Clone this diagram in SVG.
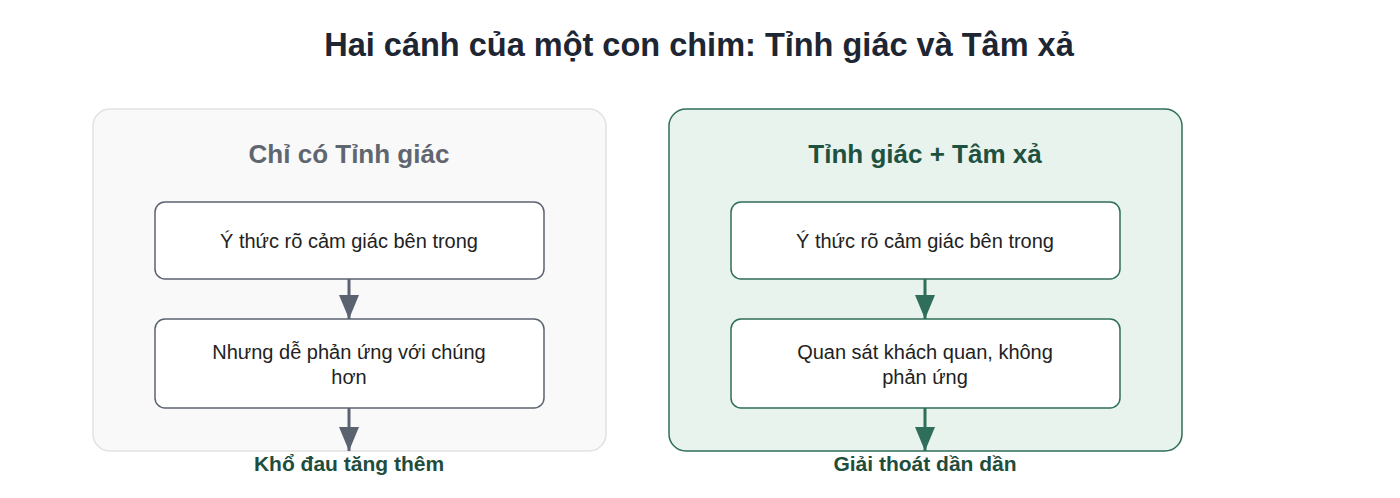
<svg xmlns="http://www.w3.org/2000/svg" width="1400" height="498" viewBox="0 0 1400 498">
<style>
text{font-family:"Liberation Sans",Arial,sans-serif;text-anchor:middle}
.title{font-size:32.5px;font-weight:bold;fill:#1e2633}
.ct{font-size:26px;font-weight:bold}
.nt{font-size:20px;fill:#222}
.out{font-size:21px;font-weight:bold;fill:#1f4d3d}
.node{fill:#fff;stroke-width:1.5}
</style>
<defs>
<marker id="ag" viewBox="0 0 24 20" markerWidth="24" markerHeight="20" refX="24" refY="10" orient="auto" markerUnits="userSpaceOnUse"><path d="M0,0L24,10L0,20Z" fill="#5c6370"/></marker>
<marker id="ae" viewBox="0 0 24 20" markerWidth="24" markerHeight="20" refX="24" refY="10" orient="auto" markerUnits="userSpaceOnUse"><path d="M0,0L24,10L0,20Z" fill="#2f6e5a"/></marker>
</defs>
<rect width="1400" height="498" fill="#fff"/>
<text class="title" x="699" y="56">Hai cánh của một con chim: Tỉnh giác và Tâm xả</text>
<g id="cluster-left">
<rect x="93" y="109" width="513" height="342" rx="17" fill="#f9f9fa" stroke="#e2e2e4" stroke-width="1.5"/>
<text class="ct" x="349" y="163" fill="#5f6670">Chỉ có Tỉnh giác</text>
</g>
<g id="cluster-right">
<rect x="669" y="109" width="513" height="342" rx="17" fill="#e8f3ee" stroke="#2f6e5a" stroke-width="1.5"/>
<text class="ct" x="925" y="163" fill="#1f5140">Tỉnh giác + Tâm xả</text>
</g>
<g id="connectors">
<line x1="349" y1="279" x2="349" y2="319" stroke="#5c6370" stroke-width="3" marker-end="url(#ag)"/>
<line x1="349" y1="408" x2="349" y2="451" stroke="#5c6370" stroke-width="3" marker-end="url(#ag)"/>
<line x1="925" y1="279" x2="925" y2="319" stroke="#2f6e5a" stroke-width="3" marker-end="url(#ae)"/>
<line x1="925" y1="408" x2="925" y2="451" stroke="#2f6e5a" stroke-width="3" marker-end="url(#ae)"/>
</g>
<g id="node-l1">
<rect class="node" x="155" y="202" width="389" height="77" rx="10" stroke="#5c6370"/>
<text class="nt" x="349" y="248">Ý thức rõ cảm giác bên trong</text>
</g>
<g id="node-l2">
<rect class="node" x="155" y="319" width="389" height="89" rx="10" stroke="#5c6370"/>
<text class="nt" x="349" y="359">Nhưng dễ phản ứng với chúng</text>
<text class="nt" x="349" y="384">hơn</text>
</g>
<g id="node-r1">
<rect class="node" x="731" y="202" width="389" height="77" rx="10" stroke="#2f6e5a"/>
<text class="nt" x="925" y="248">Ý thức rõ cảm giác bên trong</text>
</g>
<g id="node-r2">
<rect class="node" x="731" y="319" width="389" height="89" rx="10" stroke="#2f6e5a"/>
<text class="nt" x="925" y="359">Quan sát khách quan, không</text>
<text class="nt" x="925" y="384">phản ứng</text>
</g>
<g id="out-left"><text class="out" x="349" y="471">Khổ đau tăng thêm</text></g>
<g id="out-right"><text class="out" x="925" y="471">Giải thoát dần dần</text></g>
</svg>
